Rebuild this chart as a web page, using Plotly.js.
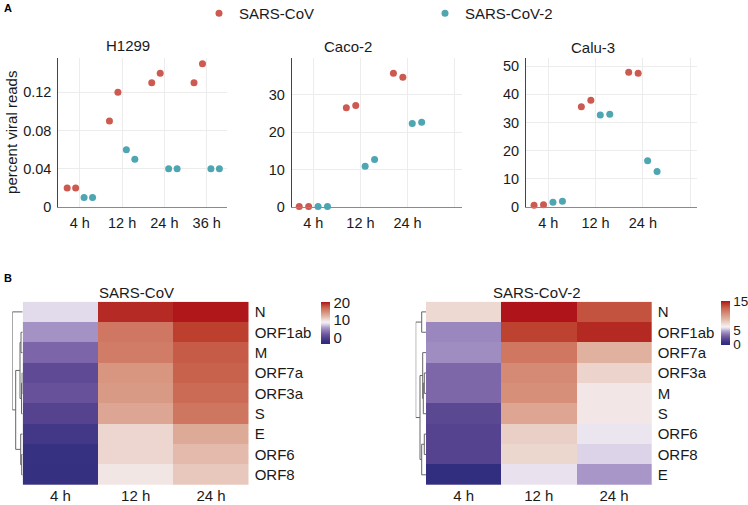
<!DOCTYPE html>
<html>
<head>
<meta charset="utf-8">
<script src="https://cdn.plot.ly/plotly-3.0.1.min.js"></script>
<style>html,body{margin:0;padding:0;background:#fff;}#chart{width:748px;height:505px;}</style>
</head>
<body>
<div id="chart"></div>
<script>
// ---------- Panel A data ----------
const timeCats = ["4 h", "12 h", "24 h", "36 h"];
const h1299Times = ["4 h", "12 h", "24 h", "36 h"];
const h1299CovRep1 = [0.02, 0.09, 0.13, 0.13];
const h1299CovRep2 = [0.02, 0.12, 0.14, 0.15];
const h1299Cov2Rep1 = [0.01, 0.06, 0.04, 0.04];
const h1299Cov2Rep2 = [0.01, 0.05, 0.04, 0.04];

const cacoTimes = ["4 h", "12 h", "24 h"];
const cacoCovRep1 = [0.15, 26.5, 35.7];
const cacoCovRep2 = [0.15, 27.1, 34.6];
const cacoCov2Rep1 = [0.15, 10.9, 22.3];
const cacoCov2Rep2 = [0.15, 12.7, 22.6];

const caluTimes = ["4 h", "12 h", "24 h"];
const caluCovRep1 = [0.6, 35.6, 47.9];
const caluCovRep2 = [0.8, 37.9, 47.5];
const caluCov2Rep1 = [1.7, 32.7, 16.4];
const caluCov2Rep2 = [2.0, 32.9, 12.6];

const virusNames = ["SARS-CoV", "SARS-CoV-2"];
const cellLines = ["H1299", "Caco-2", "Calu-3"];

// ---------- Panel B data ----------
const hmTimes = ["4 h", "12 h", "24 h"];
const covGenes = ["N", "ORF1ab", "M", "ORF7a", "ORF3a", "S", "E", "ORF6", "ORF8"];
const covExpr = [
  [8.1, 19.8, 20.5],
  [5.4, 16.3, 19.0],
  [3.0, 16.0, 17.8],
  [0.9, 14.5, 17.5],
  [1.5, 14.2, 17.1],
  [0.25, 13.4, 16.4],
  [-1.0, 10.7, 13.2],
  [-2.0, 10.7, 12.2],
  [-2.25, 9.7, 11.5]
];
const cov2Genes = ["N", "ORF1ab", "ORF7a", "ORF3a", "M", "S", "ORF6", "ORF8", "E"];
const cov2Expr = [
  [7.5, 15.3, 13.4],
  [4.2, 14.0, 14.7],
  [4.35, 12.0, 9.2],
  [3.3, 11.1, 7.7],
  [3.3, 10.8, 6.8],
  [2.1, 9.8, 6.8],
  [1.9, 7.9, 6.05],
  [1.9, 7.6, 5.7],
  [0.3, 6.0, 4.6]
];
const covScale = {min: -3.5, mid: 9, max: 20.6, ticks: [0, 10, 20]};
const cov2Scale = {min: 0, mid: 6.3, max: 15.3, ticks: [0, 5, 15]};

// dendrogram linkages: [childA, childB, height]; leaves 0..8, new nodes 9..
const covLinkage = [
  [3, 4, 0.6],
  [9, 5, 1.2],
  [1, 2, 1.7],
  [11, 10, 2.7],
  [7, 8, 1.0],
  [6, 13, 2.0],
  [12, 14, 7.0],
  [0, 15, 10.4]
];
const cov2Linkage = [
  [0, 1, 4.3],
  [3, 4, 1.7],
  [10, 5, 2.7],
  [2, 11, 3.3],
  [6, 7, 1.7],
  [13, 8, 4.3],
  [12, 14, 6.0],
  [9, 15, 10.3]
];

// ---------- helpers ----------
const W = 748, H = 505;
const px = v => v / W;
const py = v => 1 - v / H;
const FONT = "Liberation Sans, Arial, Helvetica, sans-serif";
const txt = "#1a1a1a";
const covColor = "#cd5a50";
const cov2Color = "#4ea6b3";

const blueStops = [[0, "#2d2b7c"], [0.15, "#3a3284"], [0.3, "#56438f"], [0.45, "#6e58a0"],
  [0.6, "#8c77b3"], [0.75, "#ac9bcb"], [0.9, "#dbd2e8"], [1, "#f5f1f3"]];
const redStops = [[0, "#f5f1f3"], [0.12, "#eedcd6"], [0.3, "#e2b5a5"], [0.5, "#d6907a"],
  [0.7, "#cb6a55"], [0.85, "#be4430"], [1, "#ae1419"]];
function makeScale(s) {
  const f = (s.mid - s.min) / (s.max - s.min);
  const out = [];
  blueStops.forEach(([t, c]) => out.push([t * f, c]));
  redStops.slice(1).forEach(([t, c]) => out.push([f + t * (1 - f), c]));
  return out;
}

function dendroLines(linkage, n) {
  const pos = [], ht = [];
  for (let i = 0; i < n; i++) { pos.push(i); ht.push(0); }
  const xs = [], ys = [];
  linkage.forEach(([a, b, h]) => {
    xs.push(ht[a], h, h, ht[b], null);
    ys.push(pos[a], pos[a], pos[b], pos[b], null);
    pos.push((pos[a] + pos[b]) / 2);
    ht.push(h);
  });
  return {xs, ys};
}

// ---------- traces ----------
const traces = [];
const scatterSets = [
  {ax: "", times: h1299Times, cov: [h1299CovRep1, h1299CovRep2], cov2: [h1299Cov2Rep1, h1299Cov2Rep2]},
  {ax: "2", times: cacoTimes, cov: [cacoCovRep1, cacoCovRep2], cov2: [cacoCov2Rep1, cacoCov2Rep2]},
  {ax: "3", times: caluTimes, cov: [caluCovRep1, caluCovRep2], cov2: [caluCov2Rep1, caluCov2Rep2]}
];
scatterSets.forEach((s, i) => {
  [[s.cov, covColor, virusNames[0]], [s.cov2, cov2Color, virusNames[1]]].forEach(([reps, col, nm]) => {
    reps.forEach((vals, r) => {
      traces.push({
        type: "scatter", mode: "markers", x: s.times, y: vals,
        xaxis: "x" + s.ax, yaxis: "y" + s.ax,
        marker: {color: col, size: 7},
        name: nm, legendgroup: nm, showlegend: i === 0 && r === 0,
        cliponaxis: false, orientation: "v"
      });
    });
  });
});

function heat(z, genes, scale, ax, cbX, cbTop, cbLen, cbFont) {
  return {
    type: "heatmap", z: z, x: hmTimes, y: genes, xaxis: "x" + ax, yaxis: "y" + ax,
    zmin: scale.min, zmax: scale.max, colorscale: makeScale(scale),
    colorbar: {
      x: cbX, xanchor: "left", xpad: 0, y: cbTop, yanchor: "top", ypad: 0,
      len: cbLen, lenmode: "pixels", thickness: 8.5, outlinewidth: 0,
      tickvals: scale.ticks, ticks: "", tickfont: {size: cbFont, color: txt, family: FONT},
      ticklabelstandoff: 0
    },
    showlegend: false
  };
}
traces.push(heat(covExpr, covGenes, covScale, "4", px(320.5), py(301.7), 41.6, 15));
traces.push(heat(cov2Expr, cov2Genes, cov2Scale, "5", px(720.5), py(300.7), 44, 13.5));

const d1 = dendroLines(covLinkage, covGenes.length);
const d2 = dendroLines(cov2Linkage, cov2Genes.length);
traces.push({type: "scatter", mode: "lines", x: d1.xs, y: d1.ys, xaxis: "x6", yaxis: "y6",
  line: {color: "#666", width: 1}, showlegend: false, hoverinfo: "skip"});
traces.push({type: "scatter", mode: "lines", x: d2.xs, y: d2.ys, xaxis: "x7", yaxis: "y7",
  line: {color: "#666", width: 1}, showlegend: false, hoverinfo: "skip"});

// ---------- layout ----------
function scatX(domain, range, labels) {
  return {
    domain: domain, range: range, type: "category",
    categoryorder: "array", categoryarray: timeCats,
    tickvals: timeCats, ticktext: labels,
    showgrid: true, gridcolor: "#ececec", gridwidth: 1, zeroline: false,
    showline: true, linecolor: "#8a8a8a", linewidth: 1, ticks: "",
    tickfont: {size: 14.5, color: txt, family: FONT}, ticklabelstandoff: 3,
    fixedrange: true
  };
}
function scatY(domain, range, dtick, anchor) {
  return {
    domain: domain, range: range, dtick: dtick, anchor: anchor,
    showgrid: true, gridcolor: "#ececec", gridwidth: 1, zeroline: false,
    showline: true, linecolor: "#444", linewidth: 1, ticks: "",
    tickfont: {size: 14.5, color: txt, family: FONT}, ticklabelstandoff: 3,
    fixedrange: true
  };
}
const yDomA = [py(207), py(57.5)];
const yDomB = [py(485), py(301.7)];

const layout = {
  width: W, height: H, margin: {l: 0, r: 0, t: 0, b: 0, autoexpand: false},
  paper_bgcolor: "#fff", plot_bgcolor: "#fff",
  font: {family: FONT, color: txt, size: 14},
  scattermode: "group", scattergap: 0.2,
  showlegend: true,
  legend: {
    orientation: "h", x: px(199), xanchor: "left", y: py(-3), yanchor: "top",
    font: {size: 15, color: txt, family: FONT}, entrywidth: 181, entrywidthmode: "pixels",
    itemsizing: "trace", bgcolor: "rgba(0,0,0,0)"
  },
  xaxis: Object.assign(scatX([px(58.3), px(227)], [-0.51, 3.48], ["4 h", "12 h", "24 h", "36 h"]), {anchor: "y"}),
  yaxis: Object.assign(scatY(yDomA, [0, 0.1565], 0.04, "x"), {
    tickformat: "~g",
    title: {text: "percent viral reads", font: {size: 15, color: txt, family: FONT}, standoff: 1}
  }),
  xaxis2: Object.assign(scatX([px(291.7), px(461.7)], [-0.46, 3.15], ["4 h", "12 h", "24 h", ""]), {anchor: "y2"}),
  yaxis2: scatY(yDomA, [0, 39.9], 10, "x2"),
  xaxis3: Object.assign(scatX([px(526), px(697.3)], [-0.47, 3.15], ["4 h", "12 h", "24 h", ""]), {anchor: "y3"}),
  yaxis3: scatY(yDomA, [0, 53.1], 10, "x3"),

  xaxis4: {domain: [px(22.7), px(248.7)], anchor: "y4", showgrid: false, zeroline: false, showline: false,
    ticks: "", tickfont: {size: 15, color: txt, family: FONT}, fixedrange: true},
  yaxis4: {domain: yDomB, anchor: "x4", side: "right", autorange: "reversed", showgrid: false, zeroline: false,
    showline: false, ticks: "", tickfont: {size: 15, color: txt, family: FONT}, ticklabelstandoff: 5, fixedrange: true},
  xaxis5: {domain: [px(426), px(651.7)], anchor: "y5", showgrid: false, zeroline: false, showline: false,
    ticks: "", tickfont: {size: 15, color: txt, family: FONT}, fixedrange: true},
  yaxis5: {domain: yDomB, anchor: "x5", side: "right", autorange: "reversed", showgrid: false, zeroline: false,
    showline: false, ticks: "", tickfont: {size: 15, color: txt, family: FONT}, ticklabelstandoff: 5, fixedrange: true},

  xaxis6: {domain: [px(12.3), px(22.7)], anchor: "y6", range: [10.4, 0], visible: false, fixedrange: true},
  yaxis6: {domain: yDomB, anchor: "x6", range: [8.5, -0.5], visible: false, fixedrange: true},
  xaxis7: {domain: [px(415.7), px(426)], anchor: "y7", range: [10.3, 0], visible: false, fixedrange: true},
  yaxis7: {domain: yDomB, anchor: "x7", range: [8.5, -0.5], visible: false, fixedrange: true},

  annotations: [
    {text: "<b>A</b>", x: px(2), y: py(8), xref: "paper", yref: "paper", xanchor: "left", yanchor: "middle",
      showarrow: false, font: {size: 11, color: "#000", family: FONT}},
    {text: "<b>B</b>", x: px(2), y: py(277.5), xref: "paper", yref: "paper", xanchor: "left", yanchor: "middle",
      showarrow: false, font: {size: 11, color: "#000", family: FONT}},
    {text: cellLines[0], x: px(128), y: py(46), xref: "paper", yref: "paper", showarrow: false,
      xanchor: "center", yanchor: "middle", font: {size: 15, color: txt, family: FONT}},
    {text: cellLines[1], x: px(348), y: py(46.5), xref: "paper", yref: "paper", showarrow: false,
      xanchor: "center", yanchor: "middle", font: {size: 15, color: txt, family: FONT}},
    {text: cellLines[2], x: px(593), y: py(48), xref: "paper", yref: "paper", showarrow: false,
      xanchor: "center", yanchor: "middle", font: {size: 15, color: txt, family: FONT}},
    {text: virusNames[0], x: px(136.7), y: py(292.7), xref: "paper", yref: "paper", showarrow: false,
      xanchor: "center", yanchor: "middle", font: {size: 15, color: txt, family: FONT}},
    {text: virusNames[1], x: px(536.7), y: py(292.7), xref: "paper", yref: "paper", showarrow: false,
      xanchor: "center", yanchor: "middle", font: {size: 15, color: txt, family: FONT}}
  ]
};

Plotly.newPlot("chart", traces, layout, {staticPlot: true, displayModeBar: false});
</script>
</body>
</html>
